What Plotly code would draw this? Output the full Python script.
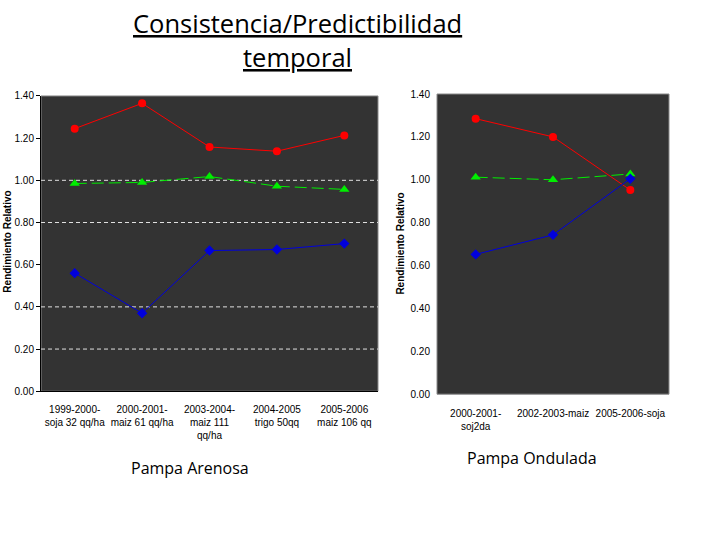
import plotly.graph_objects as go

# Pampa Arenosa
arenosa_cats = ["1999-2000-<br>soja 32 qq/ha", "2000-2001-<br>maiz 61 qq/ha",
                "2003-2004-<br>maiz 111<br>qq/ha", "2004-2005<br>trigo 50qq",
                "2005-2006<br>maiz 106 qq"]
arenosa_red = [1.245, 1.365, 1.158, 1.138, 1.213]
arenosa_green = [0.985, 0.99, 1.018, 0.972, 0.957]
arenosa_blue = [0.56, 0.37, 0.667, 0.672, 0.70]

# Pampa Ondulada
ondulada_cats = ["2000-2001-<br>soj2da", "2002-2003-maiz", "2005-2006-soja"]
ondulada_red = [1.285, 1.20, 0.952]
ondulada_green = [1.012, 1.0, 1.027]
ondulada_blue = [0.652, 0.743, 1.005]

grid_levels = [0.2, 0.4, 0.8, 1.0]

RED = "#ff0000"
GREEN = "#00ee00"
BLUE = "#0000dd"
BG = "#333333"

fig = go.Figure()


def add_series(cats, red, green, blue, xa, ya):
    fig.add_trace(go.Scatter(x=cats, y=red, mode="lines+markers", xaxis=xa, yaxis=ya,
                             line=dict(color=RED, width=1),
                             marker=dict(symbol="circle", size=8, color=RED)))
    fig.add_trace(go.Scatter(x=cats, y=green, mode="lines+markers", xaxis=xa, yaxis=ya,
                             line=dict(color=GREEN, width=1, dash="12px,5px"),
                             marker=dict(symbol="triangle-up", size=9, color=GREEN)))
    fig.add_trace(go.Scatter(x=cats, y=blue, mode="lines+markers", xaxis=xa, yaxis=ya,
                             line=dict(color=BLUE, width=1),
                             marker=dict(symbol="diamond", size=8, color=BLUE)))


add_series(arenosa_cats, arenosa_red, arenosa_green, arenosa_blue, "x", "y")
add_series(ondulada_cats, ondulada_red, ondulada_green, ondulada_blue, "x2", "y2")

tick_font = dict(family="Liberation Sans", size=10, color="black")
hidden_tick = dict(ticks="outside", tickcolor="rgba(0,0,0,0)")

yaxis_common = dict(range=[0, 1.4], dtick=0.2, tickformat=".2f", showgrid=False,
                    zeroline=False, tickfont=tick_font, fixedrange=True)

fig.update_layout(
    width=720, height=540,
    margin=dict(l=0, r=0, t=0, b=0),
    paper_bgcolor="white",
    showlegend=False,
    xaxis=dict(domain=[41 / 720, 378 / 720], anchor="y", showgrid=False,
               range=[-0.5, len(arenosa_cats) - 0.5], fixedrange=True,
               tickfont=tick_font, showline=True, linecolor="black", linewidth=1,
               ticklen=9, **hidden_tick),
    yaxis=dict(domain=[1 - 394 / 540, 1 - 92 / 540], anchor="x", showline=True,
               linecolor="black", linewidth=1, ticks="outside", ticklen=4,
               tickcolor="black", **yaxis_common),
    xaxis2=dict(domain=[437 / 720, 669 / 720], anchor="y2", showgrid=False,
                range=[-0.5, len(ondulada_cats) - 0.5], fixedrange=True,
                tickfont=tick_font, showline=False, ticklen=10, **hidden_tick),
    yaxis2=dict(domain=[1 - 397 / 540, 1 - 90 / 540], anchor="x2", showline=False,
                ticklen=4, **hidden_tick, **yaxis_common),
)

# dark plot backgrounds with thin grey border
for xr, yr in [("x domain", "y domain"), ("x2 domain", "y2 domain")]:
    fig.add_shape(type="rect", xref=xr, yref=yr, x0=0, x1=1, y0=0, y1=1,
                  fillcolor=BG, line=dict(color="#8a8a8a", width=1), layer="below")

for g in grid_levels:
    fig.add_shape(type="line", xref="x domain", yref="y", x0=0, x1=1, y0=g, y1=g,
                  line=dict(color="#e0e0e0", width=1, dash="4px,3px"), layer="below")

ytitle_font = dict(family="Liberation Sans", size=10, color="black")
for xpos, ypos in [(8, 241), (401, 243)]:
    fig.add_annotation(text="<b>Rendimiento Relativo</b>", xref="paper", yref="paper",
                       x=xpos / 720, y=1 - ypos / 540, textangle=-90, showarrow=False,
                       xanchor="center", yanchor="middle", font=ytitle_font)

title_font = dict(family="Open Sans", size=25.5, color="black")
for line, ypos in [("Consistencia/Predictibilidad", 17), ("temporal", 52)]:
    fig.add_annotation(text="<u>" + line + "</u>", xref="paper", yref="paper",
                       x=297 / 720, y=1 - ypos / 540, xanchor="center", yanchor="middle",
                       showarrow=False, font=title_font)

label_font = dict(family="Open Sans", size=16, color="black")
fig.add_annotation(text="Pampa Arenosa", xref="paper", yref="paper",
                   x=190 / 720, y=1 - 473 / 540, xanchor="center", yanchor="middle",
                   showarrow=False, font=label_font)
fig.add_annotation(text="Pampa Ondulada", xref="paper", yref="paper",
                   x=532 / 720, y=1 - 462 / 540, xanchor="center", yanchor="middle",
                   showarrow=False, font=label_font)

# page has a default 8px body margin; drop it so the figure sits at the window corner
fig.write_html("out.html", config={"displayModeBar": False},
               post_script="document.body.style.margin = '0';")
